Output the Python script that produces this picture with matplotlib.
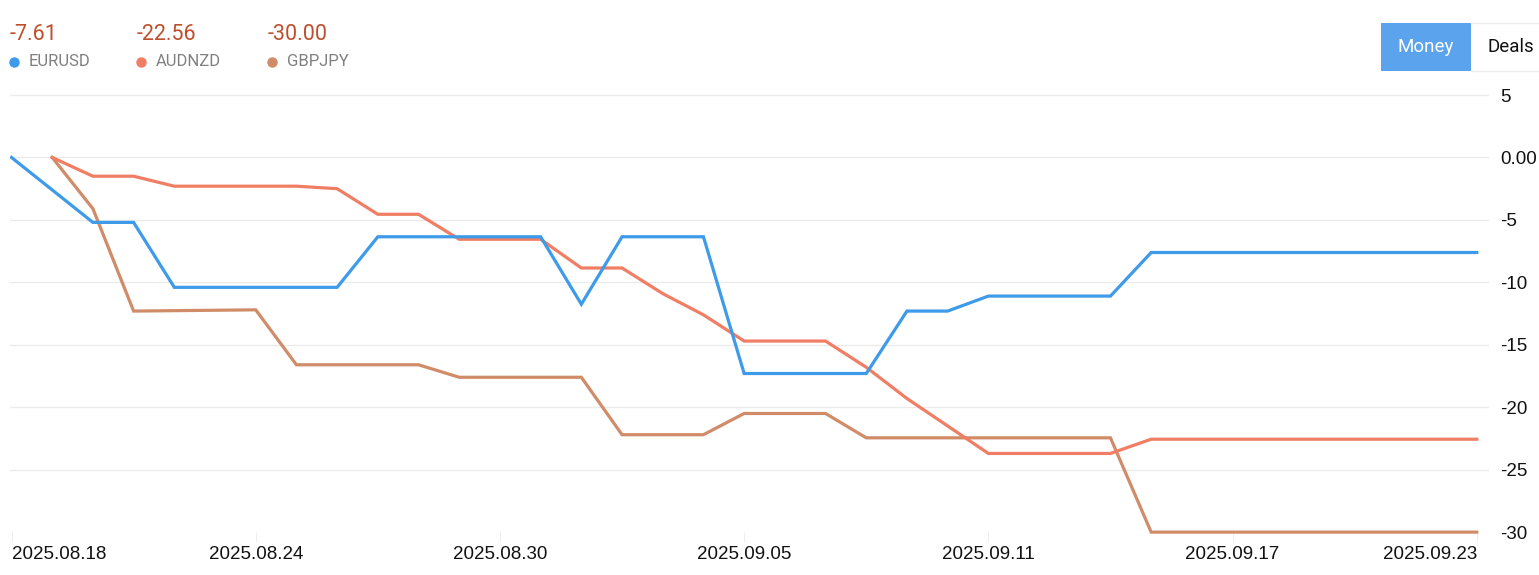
import numpy as np
import pandas as pd
import matplotlib
matplotlib.use("Agg")
import matplotlib.pyplot as plt
import matplotlib.dates as mdates
from matplotlib.patches import Rectangle

# data
eur_dates = ["2025-08-18", "2025-08-20", "2025-08-21", "2025-08-22", "2025-08-26", "2025-08-27",
             "2025-08-31", "2025-09-01", "2025-09-02", "2025-09-04", "2025-09-05", "2025-09-08",
             "2025-09-09", "2025-09-10", "2025-09-11", "2025-09-14", "2025-09-15", "2025-09-23"]
eur_vals = [0, -5.2, -5.2, -10.4, -10.4, -6.35, -6.35, -11.75, -6.35, -6.35, -17.3, -17.3,
            -12.3, -12.3, -11.1, -11.1, -7.61, -7.61]

aud_dates = ["2025-08-19", "2025-08-20", "2025-08-21", "2025-08-22", "2025-08-25", "2025-08-26",
             "2025-08-27", "2025-08-28", "2025-08-29", "2025-08-31", "2025-09-01", "2025-09-02",
             "2025-09-03", "2025-09-04", "2025-09-05", "2025-09-07", "2025-09-08", "2025-09-09",
             "2025-09-10", "2025-09-11", "2025-09-14", "2025-09-15", "2025-09-23"]
aud_vals = [0, -1.5, -1.5, -2.3, -2.3, -2.5, -4.55, -4.55, -6.55, -6.55, -8.85, -8.85,
            -10.9, -12.6, -14.7, -14.7, -16.8, -19.3, -21.5, -23.7, -23.7, -22.56, -22.56]

gbp_dates = ["2025-08-19", "2025-08-20", "2025-08-21", "2025-08-24", "2025-08-25", "2025-08-28",
             "2025-08-29", "2025-09-01", "2025-09-02", "2025-09-04", "2025-09-05", "2025-09-07",
             "2025-09-08", "2025-09-14", "2025-09-15", "2025-09-23"]
gbp_vals = [0, -4.1, -12.3, -12.2, -16.6, -16.6, -17.6, -17.6, -22.2, -22.2, -20.5, -20.5,
            -22.45, -22.45, -30, -30]

names = ["EURUSD", "AUDNZD", "GBPJPY"]
totals = ["-7.61", "-22.56", "-30.00"]
colors = ["#3D9BE9", "#F07E64", "#D08C68"]

xtick_dates = ["2025-08-18", "2025-08-24", "2025-08-30", "2025-09-05", "2025-09-11", "2025-09-17", "2025-09-23"]
yticks = [5, 0, -5, -10, -15, -20, -25, -30]

plt.rcParams['font.family'] = ['Liberation Sans', 'DejaVu Sans']

fig = plt.figure(figsize=(15.39, 5.75), dpi=100)
ax = fig.add_axes([10/1539, 0.0572, 1479/1539, 0.7797])

series = [(eur_dates, eur_vals), (aud_dates, aud_vals), (gbp_dates, gbp_vals)]
# draw in reverse so blue sits on top
for (d, v), c in reversed(list(zip(series, colors))):
    ax.plot(pd.to_datetime(d), v, color=c, lw=2.3, solid_joinstyle='miter')

d0 = mdates.date2num(pd.Timestamp("2025-08-18"))
ax.set_xlim(d0 - 0.037, d0 + 36.3)
ax.set_ylim(-30.8, 5.1)

ax.set_yticks(yticks)
ax.set_yticklabels(["0.00" if t == 0 else str(t) for t in yticks])
ax.yaxis.tick_right()
ax.tick_params(axis='y', length=0, pad=8, labelsize=13.5, labelcolor='#111111')
ax.grid(axis='y', color='#EBEBEB', lw=1)
ax.yaxis.get_gridlines()[-1].set_visible(False)  # no line at -30
ax.set_axisbelow(True)

xt = pd.to_datetime(xtick_dates)
ax.set_xticks(xt)
ax.set_xticklabels([t.strftime("%Y.%m.%d") for t in xt])
ax.tick_params(axis='x', direction='in', length=7, color='#EEEEEE', pad=3, labelsize=13.5, labelcolor='#111111')
labs = ax.get_xticklabels()
labs[0].set_ha('left')
labs[-1].set_ha('right')

for s in ax.spines.values():
    s.set_visible(False)

# header
xs_val = [10, 137, 268]
for x, t, n, c in zip(xs_val, totals, names, colors):
    fig.text(x/1539, 1 - 35/575, t, color='#BF4F2C', fontsize=15.5, family='Roboto', va='center')
    fig.text((x + 19)/1539, 1 - 62/575, n, color='#808080', fontsize=12, family='Roboto', va='center')
    fig.add_artist(plt.Line2D([(x + 4)/1539], [1 - 62/575], marker='o', ms=6.5, color=c, mec=c,
                              transform=fig.transFigure))

# buttons
fig.add_artist(Rectangle((1381/1539, 1 - 71/575), 90/1539, 48/575, transform=fig.transFigure,
                         facecolor='#5BA3EC', edgecolor='none'))
fig.text(1426/1539, 1 - 47/575, "Money", color='white', fontsize=13.5, family='Roboto', ha='center', va='center')
fig.text(1511/1539, 1 - 47/575, "Deals", color='#111111', fontsize=13.5, family='Roboto', ha='center', va='center')
for yy in [23, 71]:
    fig.add_artist(plt.Line2D([1471/1539, 1], [1 - yy/575, 1 - yy/575], color='#EEEEEE', lw=1,
                              transform=fig.transFigure))

fig.savefig("out.png", dpi=100, facecolor='white')
